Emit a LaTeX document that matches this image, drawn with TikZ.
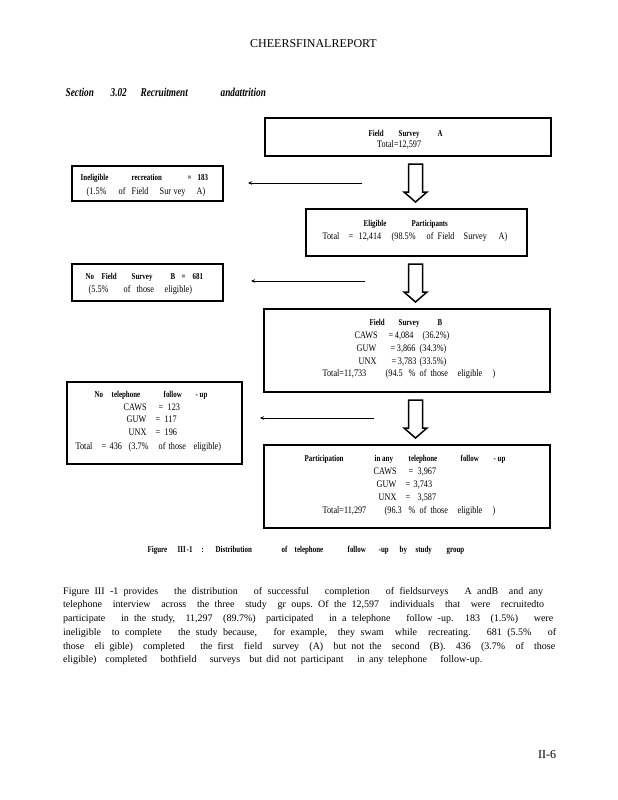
\documentclass[tikz,border=0pt]{standalone}
\usepackage{fontspec}
\setmainfont{Liberation Serif}
\newfontfamily\cbf[FakeStretch=0.77]{Liberation Serif}
\newfontfamily\cnd[FakeStretch=0.82]{Liberation Serif}
\usetikzlibrary{arrows.meta}
\newcommand\pw[2]{\makebox[0pt][l]{\hspace{#1pt}#2}}
\newcommand\blockarrow[1]{\draw[blk] (#1) ++(-7,0) -- ++(14,0) -- ++(0,28) -- ++(4.5,0) -- ++(-11.5,10) -- ++(-11.5,-10) -- ++(4.5,0) -- cycle;}
\begin{document}
\begin{tikzpicture}[x=1pt,y=-1pt,
  box/.style={draw,line width=1.5pt,inner sep=0pt,outer sep=0pt},
  lab/.style={inner sep=0pt,anchor=base west,font=\cbf\bfseries\fontsize{9}{10}\selectfont},
  txt/.style={inner sep=0pt,anchor=base west,font=\cnd\fontsize{10}{12}\selectfont},
  para/.style={inner sep=0pt,anchor=base west,font=\fontsize{10}{12}\selectfont},
  thin/.style={line width=0.8pt,-{Stealth[length=4pt,width=3.5pt]}},
  blk/.style={line width=1.5pt,fill=white,line join=miter}]
\useasboundingbox (0,0) rectangle (618,800);

% header
\node[inner sep=0pt,anchor=base,font=\fontsize{12}{14}\selectfont] (hdr) at (313.5,47.3) {CHEERSFINALREPORT};
\node[inner sep=0pt,anchor=base west,font=\cbf\bfseries\itshape\fontsize{12}{14}\selectfont] (sec) at (65,96.7)
  {\pw{0}{Section}\pw{45}{3.02}\pw{75}{Recruitment}\pw{155}{andattrition}\hspace{193pt}};

% boxes
\node[box,minimum width=286pt,minimum height=38pt] (A) at (408,137) {};
\node[box,minimum width=151pt,minimum height=35pt] (inel) at (147.5,183.5) {};
\node[box,minimum width=221pt,minimum height=47pt] (elig) at (416.5,232.5) {};
\node[box,minimum width=151pt,minimum height=37pt] (nofsb) at (147.5,282.5) {};
\node[box,minimum width=286pt,minimum height=83pt] (fsb) at (407,350.5) {};
\node[box,minimum width=175pt,minimum height=82pt] (notel) at (154.5,423) {};
\node[box,minimum width=286pt,minimum height=83pt] (part) at (407,486.5) {};

% Field Survey A
\node[lab] (A1) at (368,136.5) {\pw{0}{Field}\pw{30}{Survey}\pw{69}{A}\hspace{74pt}};
\node[txt] (A2) at (377,147) {Total=12,597};

% Ineligible
\node[lab] (I1) at (80,180) {\pw{0}{Ineligible}\pw{51}{recreation}\pw{107}{=}\pw{117}{183}\hspace{125pt}};
\node[txt] (I2) at (86,194) {\pw{0}{(1.5\%}\pw{32}{of}\pw{45}{Field}\pw{73}{Sur}\pw{87}{vey}\pw{110}{A)}\hspace{120pt}};

% Eligible
\node[lab] (E1) at (363,226.7) {\pw{0}{Eligible}\pw{48}{Participants}\hspace{78pt}};
\node[txt] (E2) at (322,239) {\pw{0}{Total}\pw{26}{=}\pw{36}{12,414}\pw{69}{(98.5\%}\pw{104}{of}\pw{115}{Field}\pw{141}{Survey}\pw{176}{A)}\hspace{185pt}};

% No Field Survey B
\node[lab] (N1) at (85,279) {\pw{0}{No}\pw{16}{Field}\pw{46}{Survey}\pw{85}{B}\pw{96}{=}\pw{107}{681}\hspace{117pt}};
\node[txt] (N2) at (88,292.7) {\pw{0}{(5.5\%}\pw{35}{of}\pw{48}{those}\pw{76}{eligible)}\hspace{109pt}};

% Field Survey B
\node[lab] (B1) at (369,325.7) {\pw{0}{Field}\pw{29}{Survey}\pw{68}{B}\hspace{73pt}};
\node[txt] (B2) at (354,338.3) {\pw{0}{CAWS}\pw{34}{=\,4,084}\pw{68}{(36.2\%)}\hspace{94pt}};
\node[txt] (B3) at (356,351.7) {\pw{0}{GUW}\pw{34}{=\,3,866}\pw{63}{(34.3\%)}\hspace{91pt}};
\node[txt] (B4) at (358,364.3) {\pw{0}{UNX}\pw{33}{=\,3,783}\pw{61}{(33.5\%)}\hspace{89pt}};
\node[txt] (B5) at (322,376.7) {\pw{0}{Total=11,733}\pw{63}{(94.5}\pw{86}{\%}\pw{97}{of}\pw{108}{those}\pw{135}{eligible}\pw{170}{)}\hspace{173pt}};

% No telephone follow-up
\node[lab] (T1) at (94,397.3) {\pw{0}{No}\pw{17}{telephone}\pw{69}{follow}\pw{101}{-\ up}\hspace{114pt}};
\node[txt] (T2) at (123,410) {\pw{0}{CAWS}\pw{35}{=}\pw{44}{123}\hspace{56pt}};
\node[txt] (T3) at (126,422.3) {\pw{0}{GUW}\pw{29}{=}\pw{38}{117}\hspace{50pt}};
\node[txt] (T4) at (128,435.7) {\pw{0}{UNX}\pw{27}{=}\pw{36}{196}\hspace{48pt}};
\node[txt] (T5) at (75,449) {\pw{0}{Total}\pw{26}{=}\pw{34}{436}\pw{53}{(3.7\%}\pw{83}{of}\pw{93}{those}\pw{118}{eligible)}\hspace{144pt}};

% Participation
\node[lab] (P1) at (304,461.7) {\pw{0}{Participation}\pw{70}{in any}\pw{104}{telephone}\pw{156}{follow}\pw{189}{-\ up}\hspace{202pt}};
\node[txt] (P2) at (373,474) {\pw{0}{CAWS}\pw{35}{=}\pw{44}{3,967}\hspace{63pt}};
\node[txt] (P3) at (376,487.3) {\pw{0}{GUW}\pw{29}{=}\pw{37}{3,743}\hspace{56pt}};
\node[txt] (P4) at (378,500) {\pw{0}{UNX}\pw{27}{=}\pw{39}{3,587}\hspace{56pt}};
\node[txt] (P5) at (322,513.3) {\pw{0}{Total=11,297}\pw{62}{(96.3}\pw{86}{\%}\pw{97}{of}\pw{108}{those}\pw{135}{eligible}\pw{170}{)}\hspace{173pt}};

% thin arrows
\coordinate (a1s) at (362,183); \coordinate (a1e) at (248,183);
\coordinate (a2s) at (365,281); \coordinate (a2e) at (251,281);
\coordinate (a3s) at (374,418); \coordinate (a3e) at (260,418);
\draw[thin] (a1s) -- (a1e);
\draw[thin] (a2s) -- (a2e);
\draw[thin] (a3s) -- (a3e);

% block arrows
\coordinate (b1) at (415.5,164);
\coordinate (b2) at (415.5,264);
\coordinate (b3) at (415.5,400);
\blockarrow{b1}
\blockarrow{b2}
\blockarrow{b3}

% caption
\node[lab] (cap) at (147,552.3) {\pw{0}{Figure}\pw{30}{III}\pw{39}{-1}\pw{54}{:}\pw{68}{Distribution}\pw{134}{of}\pw{147}{telephone}\pw{200}{follow}\pw{231}{-up}\pw{252}{by}\pw{268}{study}\pw{299}{group}\hspace{316pt}};

% paragraph
\node[para] (l1) at (63,594) {\makebox[480pt][s]{Figure III -1 provides\ \ \ the distribution\ \ \ of successful\ \ \ completion\ \ \ of fieldsurveys\ \ \ A andB\ \ and any}};
\node[para] (l2) at (63,607.3) {\makebox[481pt][s]{telephone\ \ interview\ \ across\ \ the three\ \ study\ \ gr oups.\ Of the 12,597\ \ individuals\ \ that\ \ were\ \ recruitedto}};
\node[para] (l3) at (63,621.7) {\makebox[490pt][s]{participate\ \ \ in the study,\ \ 11,297\ \ (89.7\%)\ \ participated\ \ \ in a telephone\ \ \ follow -up. 183\ \ (1.5\%)\ \ \ were}};
\node[para] (l4) at (63,635.7) {\makebox[493pt][s]{ineligible\ \ to complete\ \ \ the study because,\ \ \ for example,\ \ they swam\ \ while\ \ recreating.\ \ \ 681 (5.5\%\ \ \ of}};
\node[para] (l5) at (63,649) {\makebox[492pt][s]{those\ \ eli gible)\ \ completed\ \ \ the first\ \ field\ \ survey\ \ (A)\ \ but not the\ \ second\ \ (B).\ \ 436\ \ (3.7\%\ \ of\ \ those}};
\node[para] (l6) at (63,662.3) {\makebox[419pt][s]{eligible)\ \ completed\ \ \ bothfield\ \ \ surveys\ \ but did not participant\ \ \ in any telephone\ \ \ follow-up.}};

% footer
\node[inner sep=0pt,anchor=base west,font=\fontsize{12}{14}\selectfont] (ftr) at (538,758.3) {II-6};
\end{tikzpicture}
\end{document}
